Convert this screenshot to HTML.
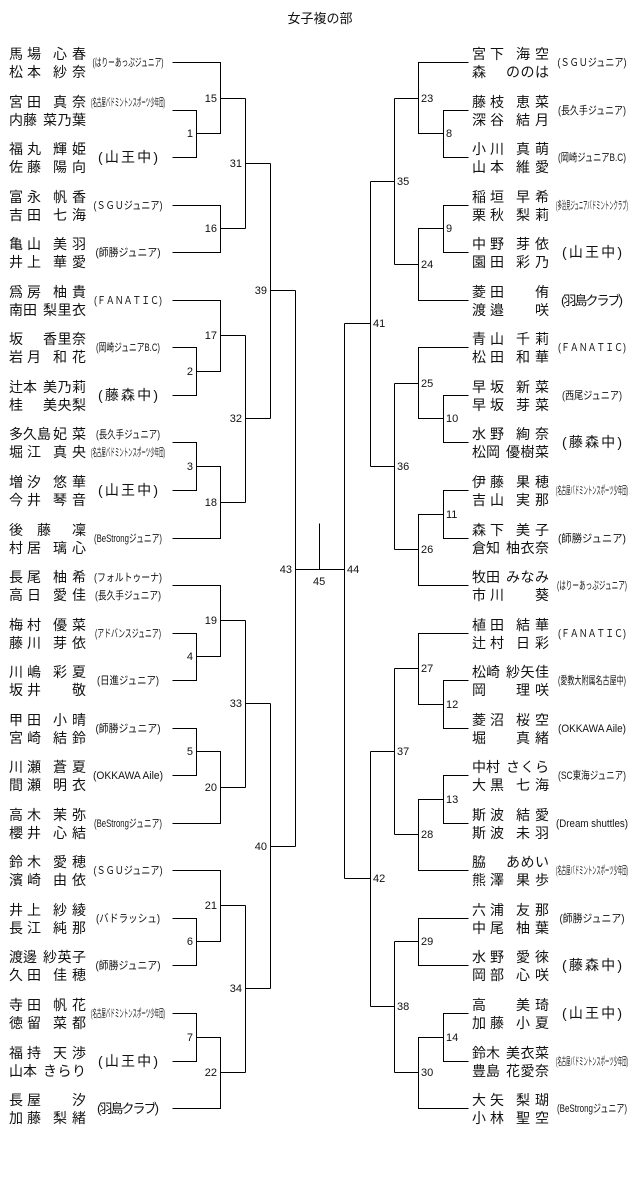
<!DOCTYPE html>
<html><head><meta charset="utf-8"><style>
html,body{margin:0;padding:0;background:#fff;}
svg{display:block;font-family:"Liberation Sans","Noto Sans CJK JP",sans-serif;}
text{font-size:14px;fill:#111;}
.c{font-size:11px;text-anchor:middle;}
.k{font-size:14px;text-anchor:middle;}
.n{font-size:11px;}
.r{text-anchor:end;}
line,path{stroke:#000;stroke-width:1;fill:none;shape-rendering:crispEdges;}
</style></head><body>
<svg width="640" height="1201" viewBox="0 0 640 1201">
<text x="320" y="23" style="font-size:13px;text-anchor:middle">女子複の部</text>

<!-- LEFT TEAMS -->
<g transform="translate(0,62)"><text x="9" y="-3" textLength="32">馬場</text><text x="53" y="-3" textLength="33">心春</text><text x="9" y="15" textLength="32">松本</text><text x="53" y="15" textLength="33">紗奈</text><text class="c" x="128" y="4" textLength="71" lengthAdjust="spacingAndGlyphs">(はりーあっぷジュニア)</text></g>
<g transform="translate(0,110)"><text x="9" y="-3" textLength="32">宮田</text><text x="53" y="-3" textLength="33">真奈</text><text x="9" y="15">内藤</text><text x="43" y="15" textLength="43">菜乃葉</text><text class="c" x="128" y="-4" textLength="74" lengthAdjust="spacingAndGlyphs">(名古屋バドミントンスポーツ少年団)</text></g>
<g transform="translate(0,157)"><text x="9" y="-3" textLength="32">福丸</text><text x="53" y="-3" textLength="33">輝姫</text><text x="9" y="15" textLength="32">佐藤</text><text x="53" y="15" textLength="33">陽向</text><text class="k" x="128" y="5" textLength="60">(山王中)</text></g>
<g transform="translate(0,205)"><text x="9" y="-3" textLength="32">富永</text><text x="53" y="-3" textLength="33">帆香</text><text x="9" y="15" textLength="32">吉田</text><text x="53" y="15" textLength="33">七海</text><text class="c" x="128" y="4" textLength="69" lengthAdjust="spacingAndGlyphs">(ＳＧＵジュニア)</text></g>
<g transform="translate(0,252)"><text x="9" y="-3" textLength="32">亀山</text><text x="53" y="-3" textLength="33">美羽</text><text x="9" y="15" textLength="32">井上</text><text x="53" y="15" textLength="33">華愛</text><text class="c" x="128" y="4" textLength="65" lengthAdjust="spacingAndGlyphs">(師勝ジュニア)</text></g>
<g transform="translate(0,300)"><text x="9" y="-3" textLength="32">爲房</text><text x="53" y="-3" textLength="33">柚貴</text><text x="9" y="15">南田</text><text x="43" y="15" textLength="43">梨里衣</text><text class="c" x="128" y="4" textLength="68" lengthAdjust="spacingAndGlyphs">(ＦＡＮＡＴＩＣ)</text></g>
<g transform="translate(0,347)"><text x="9" y="-3">坂</text><text x="43" y="-3" textLength="43">香里奈</text><text x="9" y="15" textLength="32">岩月</text><text x="53" y="15" textLength="33">和花</text><text class="c" x="128" y="4" textLength="64" lengthAdjust="spacingAndGlyphs">(岡崎ジュニアB.C)</text></g>
<g transform="translate(0,395)"><text x="9" y="-3">辻本</text><text x="43" y="-3" textLength="43">美乃莉</text><text x="9" y="15">桂</text><text x="43" y="15" textLength="43">美央梨</text><text class="k" x="128" y="5" textLength="60">(藤森中)</text></g>
<g transform="translate(0,442)"><text x="9" y="-3" textLength="42">多久島</text><text x="53" y="-3" textLength="33">妃菜</text><text x="9" y="15" textLength="32">堀江</text><text x="53" y="15" textLength="33">真央</text><text class="c" x="128" y="-4" textLength="64" lengthAdjust="spacingAndGlyphs">(長久手ジュニア)</text><text class="c" x="128" y="14" textLength="74" lengthAdjust="spacingAndGlyphs">(名古屋バドミントンスポーツ少年団)</text></g>
<g transform="translate(0,490)"><text x="9" y="-3" textLength="32">増汐</text><text x="53" y="-3" textLength="33">悠華</text><text x="9" y="15" textLength="32">今井</text><text x="53" y="15" textLength="33">琴音</text><text class="k" x="128" y="5" textLength="60">(山王中)</text></g>
<g transform="translate(0,538)"><text x="9" y="-3" textLength="42">後藤</text><text x="72" y="-3">凜</text><text x="9" y="15" textLength="32">村居</text><text x="53" y="15" textLength="33">璃心</text><text class="c" x="128" y="4" textLength="68" lengthAdjust="spacingAndGlyphs">(BeStrongジュニア)</text></g>
<g transform="translate(0,585)"><text x="9" y="-3" textLength="32">長尾</text><text x="53" y="-3" textLength="33">柚希</text><text x="9" y="15" textLength="32">高日</text><text x="53" y="15" textLength="33">愛佳</text><text class="c" x="128" y="-4" textLength="68" lengthAdjust="spacingAndGlyphs">(フォルトゥーナ)</text><text class="c" x="128" y="14" textLength="66" lengthAdjust="spacingAndGlyphs">(長久手ジュニア)</text></g>
<g transform="translate(0,633)"><text x="9" y="-3" textLength="32">梅村</text><text x="53" y="-3" textLength="33">優菜</text><text x="9" y="15" textLength="32">藤川</text><text x="53" y="15" textLength="33">芽依</text><text class="c" x="128" y="4" textLength="66" lengthAdjust="spacingAndGlyphs">(アドバンスジュニア)</text></g>
<g transform="translate(0,680)"><text x="9" y="-3" textLength="32">川嶋</text><text x="53" y="-3" textLength="33">彩夏</text><text x="9" y="15" textLength="32">坂井</text><text x="72" y="15">敬</text><text class="c" x="128" y="4" textLength="62" lengthAdjust="spacingAndGlyphs">(日進ジュニア)</text></g>
<g transform="translate(0,728)"><text x="9" y="-3" textLength="32">甲田</text><text x="53" y="-3" textLength="33">小晴</text><text x="9" y="15" textLength="32">宮崎</text><text x="53" y="15" textLength="33">結鈴</text><text class="c" x="128" y="4" textLength="65" lengthAdjust="spacingAndGlyphs">(師勝ジュニア)</text></g>
<g transform="translate(0,775)"><text x="9" y="-3" textLength="32">川瀬</text><text x="53" y="-3" textLength="33">蒼夏</text><text x="9" y="15" textLength="32">間瀬</text><text x="53" y="15" textLength="33">明衣</text><text class="c" x="128" y="4" textLength="70" lengthAdjust="spacingAndGlyphs">(OKKAWA Aile)</text></g>
<g transform="translate(0,823)"><text x="9" y="-3" textLength="32">高木</text><text x="53" y="-3" textLength="33">茉弥</text><text x="9" y="15" textLength="32">櫻井</text><text x="53" y="15" textLength="33">心結</text><text class="c" x="128" y="4" textLength="68" lengthAdjust="spacingAndGlyphs">(BeStrongジュニア)</text></g>
<g transform="translate(0,870)"><text x="9" y="-3" textLength="32">鈴木</text><text x="53" y="-3" textLength="33">愛穂</text><text x="9" y="15" textLength="32">濱崎</text><text x="53" y="15" textLength="33">由依</text><text class="c" x="128" y="4" textLength="69" lengthAdjust="spacingAndGlyphs">(ＳＧＵジュニア)</text></g>
<g transform="translate(0,918)"><text x="9" y="-3" textLength="32">井上</text><text x="53" y="-3" textLength="33">紗綾</text><text x="9" y="15" textLength="32">長江</text><text x="53" y="15" textLength="33">純那</text><text class="c" x="128" y="4" textLength="64" lengthAdjust="spacingAndGlyphs">(バドラッシュ)</text></g>
<g transform="translate(0,965)"><text x="9" y="-3">渡邊</text><text x="43" y="-3" textLength="43">紗英子</text><text x="9" y="15" textLength="32">久田</text><text x="53" y="15" textLength="33">佳穂</text><text class="c" x="128" y="4" textLength="65" lengthAdjust="spacingAndGlyphs">(師勝ジュニア)</text></g>
<g transform="translate(0,1013)"><text x="9" y="-3" textLength="32">寺田</text><text x="53" y="-3" textLength="33">帆花</text><text x="9" y="15" textLength="32">徳留</text><text x="53" y="15" textLength="33">菜都</text><text class="c" x="128" y="4" textLength="74" lengthAdjust="spacingAndGlyphs">(名古屋バドミントンスポーツ少年団)</text></g>
<g transform="translate(0,1061)"><text x="9" y="-3" textLength="32">福持</text><text x="53" y="-3" textLength="33">天渉</text><text x="9" y="15">山本</text><text x="43" y="15" textLength="43">きらり</text><text class="k" x="128" y="5" textLength="60">(山王中)</text></g>
<g transform="translate(0,1108)"><text x="9" y="-3" textLength="32">長屋</text><text x="72" y="-3">汐</text><text x="9" y="15" textLength="32">加藤</text><text x="53" y="15" textLength="33">梨緒</text><text class="k" x="128" y="5" textLength="62" style="font-size:13px">(羽島クラブ)</text></g>

<!-- RIGHT TEAMS -->
<g transform="translate(463,62)"><text x="9" y="-3" textLength="32">宮下</text><text x="53" y="-3" textLength="33">海空</text><text x="9" y="15">森</text><text x="43" y="15" textLength="43">ののは</text><text class="c" x="129" y="4" textLength="69" lengthAdjust="spacingAndGlyphs">(ＳＧＵジュニア)</text></g>
<g transform="translate(463,110)"><text x="9" y="-3" textLength="32">藤枝</text><text x="53" y="-3" textLength="33">恵菜</text><text x="9" y="15" textLength="32">深谷</text><text x="53" y="15" textLength="33">結月</text><text class="c" x="129" y="4" textLength="68" lengthAdjust="spacingAndGlyphs">(長久手ジュニア)</text></g>
<g transform="translate(463,157)"><text x="9" y="-3" textLength="32">小川</text><text x="53" y="-3" textLength="33">真萌</text><text x="9" y="15" textLength="32">山本</text><text x="53" y="15" textLength="33">維愛</text><text class="c" x="129" y="4" textLength="68" lengthAdjust="spacingAndGlyphs">(岡崎ジュニアB.C)</text></g>
<g transform="translate(463,205)"><text x="9" y="-3" textLength="32">稲垣</text><text x="53" y="-3" textLength="33">早希</text><text x="9" y="15" textLength="32">栗秋</text><text x="53" y="15" textLength="33">梨莉</text><text class="c" x="129" y="4" textLength="72" lengthAdjust="spacingAndGlyphs">(多治見ジュニアバドミントンクラブ)</text></g>
<g transform="translate(463,252)"><text x="9" y="-3" textLength="32">中野</text><text x="53" y="-3" textLength="33">芽依</text><text x="9" y="15" textLength="32">園田</text><text x="53" y="15" textLength="33">彩乃</text><text class="k" x="129" y="5" textLength="60">(山王中)</text></g>
<g transform="translate(463,300)"><text x="9" y="-3" textLength="32">菱田</text><text x="72" y="-3">侑</text><text x="9" y="15" textLength="32">渡邉</text><text x="72" y="15">咲</text><text class="k" x="129" y="5" textLength="62" style="font-size:13px">(羽島クラブ)</text></g>
<g transform="translate(463,347)"><text x="9" y="-3" textLength="32">青山</text><text x="53" y="-3" textLength="33">千莉</text><text x="9" y="15" textLength="32">松田</text><text x="53" y="15" textLength="33">和華</text><text class="c" x="129" y="4" textLength="68" lengthAdjust="spacingAndGlyphs">(ＦＡＮＡＴＩＣ)</text></g>
<g transform="translate(463,395)"><text x="9" y="-3" textLength="32">早坂</text><text x="53" y="-3" textLength="33">新菜</text><text x="9" y="15" textLength="32">早坂</text><text x="53" y="15" textLength="33">芽菜</text><text class="c" x="129" y="4" textLength="60" lengthAdjust="spacingAndGlyphs">(西尾ジュニア)</text></g>
<g transform="translate(463,442)"><text x="9" y="-3" textLength="32">水野</text><text x="53" y="-3" textLength="33">絢奈</text><text x="9" y="15">松岡</text><text x="43" y="15" textLength="43">優樹菜</text><text class="k" x="129" y="5" textLength="60">(藤森中)</text></g>
<g transform="translate(463,490)"><text x="9" y="-3" textLength="32">伊藤</text><text x="53" y="-3" textLength="33">果穂</text><text x="9" y="15" textLength="32">吉山</text><text x="53" y="15" textLength="33">実那</text><text class="c" x="129" y="4" textLength="72" lengthAdjust="spacingAndGlyphs">(名古屋バドミントンスポーツ少年団)</text></g>
<g transform="translate(463,538)"><text x="9" y="-3" textLength="32">森下</text><text x="53" y="-3" textLength="33">美子</text><text x="9" y="15">倉知</text><text x="43" y="15" textLength="43">柚衣奈</text><text class="c" x="129" y="4" textLength="68" lengthAdjust="spacingAndGlyphs">(師勝ジュニア)</text></g>
<g transform="translate(463,585)"><text x="9" y="-3">牧田</text><text x="43" y="-3" textLength="43">みなみ</text><text x="9" y="15" textLength="32">市川</text><text x="72" y="15">葵</text><text class="c" x="129" y="4" textLength="70" lengthAdjust="spacingAndGlyphs">(はりーあっぷジュニア)</text></g>
<g transform="translate(463,633)"><text x="9" y="-3" textLength="32">植田</text><text x="53" y="-3" textLength="33">結華</text><text x="9" y="15" textLength="32">辻村</text><text x="53" y="15" textLength="33">日彩</text><text class="c" x="129" y="4" textLength="68" lengthAdjust="spacingAndGlyphs">(ＦＡＮＡＴＩＣ)</text></g>
<g transform="translate(463,680)"><text x="9" y="-3">松崎</text><text x="43" y="-3" textLength="43">紗矢佳</text><text x="9" y="15">岡</text><text x="53" y="15" textLength="33">理咲</text><text class="c" x="129" y="4" textLength="68" lengthAdjust="spacingAndGlyphs">(愛教大附属名古屋中)</text></g>
<g transform="translate(463,728)"><text x="9" y="-3" textLength="32">菱沼</text><text x="53" y="-3" textLength="33">桜空</text><text x="9" y="15">堀</text><text x="53" y="15" textLength="33">真緒</text><text class="c" x="129" y="4" textLength="68" lengthAdjust="spacingAndGlyphs">(OKKAWA Aile)</text></g>
<g transform="translate(463,775)"><text x="9" y="-3">中村</text><text x="43" y="-3" textLength="43">さくら</text><text x="9" y="15" textLength="32">大黒</text><text x="53" y="15" textLength="33">七海</text><text class="c" x="129" y="4" textLength="68" lengthAdjust="spacingAndGlyphs">(SC東海ジュニア)</text></g>
<g transform="translate(463,823)"><text x="9" y="-3" textLength="32">斯波</text><text x="53" y="-3" textLength="33">結愛</text><text x="9" y="15" textLength="32">斯波</text><text x="53" y="15" textLength="33">未羽</text><text class="c" x="129" y="4" textLength="72" lengthAdjust="spacingAndGlyphs">(Dream shuttles)</text></g>
<g transform="translate(463,870)"><text x="9" y="-3">脇</text><text x="43" y="-3" textLength="43">あめい</text><text x="9" y="15" textLength="32">熊澤</text><text x="53" y="15" textLength="33">果歩</text><text class="c" x="129" y="4" textLength="72" lengthAdjust="spacingAndGlyphs">(名古屋バドミントンスポーツ少年団)</text></g>
<g transform="translate(463,918)"><text x="9" y="-3" textLength="32">六浦</text><text x="53" y="-3" textLength="33">友那</text><text x="9" y="15" textLength="32">中尾</text><text x="53" y="15" textLength="33">柚葉</text><text class="c" x="129" y="4" textLength="65" lengthAdjust="spacingAndGlyphs">(師勝ジュニア)</text></g>
<g transform="translate(463,965)"><text x="9" y="-3" textLength="32">水野</text><text x="53" y="-3" textLength="33">愛徠</text><text x="9" y="15" textLength="32">岡部</text><text x="53" y="15" textLength="33">心咲</text><text class="k" x="129" y="5" textLength="60">(藤森中)</text></g>
<g transform="translate(463,1013)"><text x="9" y="-3">高</text><text x="53" y="-3" textLength="33">美琦</text><text x="9" y="15" textLength="32">加藤</text><text x="53" y="15" textLength="33">小夏</text><text class="k" x="129" y="5" textLength="60">(山王中)</text></g>
<g transform="translate(463,1061)"><text x="9" y="-3">鈴木</text><text x="43" y="-3" textLength="43">美衣菜</text><text x="9" y="15">豊島</text><text x="43" y="15" textLength="43">花愛奈</text><text class="c" x="129" y="4" textLength="72" lengthAdjust="spacingAndGlyphs">(名古屋バドミントンスポーツ少年団)</text></g>
<g transform="translate(463,1108)"><text x="9" y="-3" textLength="32">大矢</text><text x="53" y="-3" textLength="33">梨瑚</text><text x="9" y="15" textLength="32">小林</text><text x="53" y="15" textLength="33">聖空</text><text class="c" x="129" y="4" textLength="70" lengthAdjust="spacingAndGlyphs">(BeStrongジュニア)</text></g>

<!-- LEFT BRACKET LINES -->
<g transform="translate(0.5,0.5)">
<path d="M172 62H220V133H196"/>
<path d="M172 110H196V157H172"/>
<path d="M220 98H245"/>
<path d="M172 205H220V252H172"/>
<path d="M220 228H245"/>
<path d="M245 98V228"/><path d="M245 163H270"/>
<path d="M172 300H220V371H196"/>
<path d="M172 347H196V395H172"/>
<path d="M220 335H245"/>
<path d="M172 442H196V490H172"/>
<path d="M196 466H220V538H172"/>
<path d="M220 502H245"/>
<path d="M245 335V502"/><path d="M245 418H270"/>
<path d="M270 163V418"/><path d="M270 290H295"/>
<path d="M172 585H220V656H196"/>
<path d="M172 633H196V680H172"/>
<path d="M220 620H245"/>
<path d="M172 728H196V775H172"/>
<path d="M196 751H220V823H172"/>
<path d="M220 787H245"/>
<path d="M245 620V787"/><path d="M245 703H270"/>
<path d="M172 870H220V941H196"/>
<path d="M172 918H196V965H172"/>
<path d="M220 905H245"/>
<path d="M172 1013H196V1061H172"/>
<path d="M196 1037H220V1108H172"/>
<path d="M220 1072H245"/>
<path d="M245 905V1072"/><path d="M245 988H270"/>
<path d="M270 703V988"/><path d="M270 846H295"/>
<path d="M295 290V846"/>
<path d="M295 569H344"/>
<path d="M319 523V569"/>
<!-- RIGHT -->
<path d="M468 62H418V133H443"/>
<path d="M468 110H443V157H468"/>
<path d="M418 98H394"/>
<path d="M468 205H443V252H468"/>
<path d="M443 228H418V300H468"/>
<path d="M418 264H394"/>
<path d="M394 98V264"/><path d="M394 181H370"/>
<path d="M468 347H418V418H443"/>
<path d="M468 395H443V442H468"/>
<path d="M418 383H394"/>
<path d="M468 490H443V538H468"/>
<path d="M443 514H418V585H468"/>
<path d="M418 549H394"/>
<path d="M394 383V549"/><path d="M394 466H370"/>
<path d="M370 181V466"/><path d="M370 323H344"/>
<path d="M468 633H418V704H443"/>
<path d="M468 680H443V728H468"/>
<path d="M418 668H394"/>
<path d="M468 775H443V823H468"/>
<path d="M443 799H418V870H468"/>
<path d="M418 834H394"/>
<path d="M394 668V834"/><path d="M394 751H370"/>
<path d="M468 918H418V965H468"/>
<path d="M418 941H394"/>
<path d="M468 1013H443V1061H468"/>
<path d="M443 1037H418V1108H468"/>
<path d="M418 1072H394"/>
<path d="M394 941V1072"/><path d="M394 1006H370"/>
<path d="M370 751V1006"/><path d="M370 878H344"/>
<path d="M344 323V878"/>
</g>

<!-- MATCH LABELS -->
<g class="n">
<text class="n r" x="193" y="137">1</text>
<text class="n r" x="217" y="102">15</text>
<text class="n r" x="217" y="232">16</text>
<text class="n r" x="242" y="167">31</text>
<text class="n r" x="193" y="375">2</text>
<text class="n r" x="217" y="339">17</text>
<text class="n r" x="193" y="470">3</text>
<text class="n r" x="217" y="506">18</text>
<text class="n r" x="242" y="422">32</text>
<text class="n r" x="267" y="294">39</text>
<text class="n r" x="193" y="660">4</text>
<text class="n r" x="217" y="624">19</text>
<text class="n r" x="193" y="755">5</text>
<text class="n r" x="217" y="791">20</text>
<text class="n r" x="242" y="707">33</text>
<text class="n r" x="193" y="945">6</text>
<text class="n r" x="217" y="909">21</text>
<text class="n r" x="193" y="1041">7</text>
<text class="n r" x="217" y="1076">22</text>
<text class="n r" x="242" y="992">34</text>
<text class="n r" x="267" y="850">40</text>
<text class="n r" x="292" y="573">43</text>
<text class="n" x="313" y="585">45</text>
<text class="n" x="347" y="573">44</text>
<text class="n" x="446" y="137">8</text>
<text class="n" x="421" y="102">23</text>
<text class="n" x="446" y="232">9</text>
<text class="n" x="421" y="268">24</text>
<text class="n" x="397" y="185">35</text>
<text class="n" x="446" y="422">10</text>
<text class="n" x="421" y="387">25</text>
<text class="n" x="446" y="518">11</text>
<text class="n" x="421" y="553">26</text>
<text class="n" x="397" y="470">36</text>
<text class="n" x="373" y="327">41</text>
<text class="n" x="446" y="708">12</text>
<text class="n" x="421" y="672">27</text>
<text class="n" x="446" y="803">13</text>
<text class="n" x="421" y="838">28</text>
<text class="n" x="397" y="755">37</text>
<text class="n" x="421" y="945">29</text>
<text class="n" x="446" y="1041">14</text>
<text class="n" x="421" y="1076">30</text>
<text class="n" x="397" y="1010">38</text>
<text class="n" x="373" y="882">42</text>
</g>
</svg>
</body></html>
